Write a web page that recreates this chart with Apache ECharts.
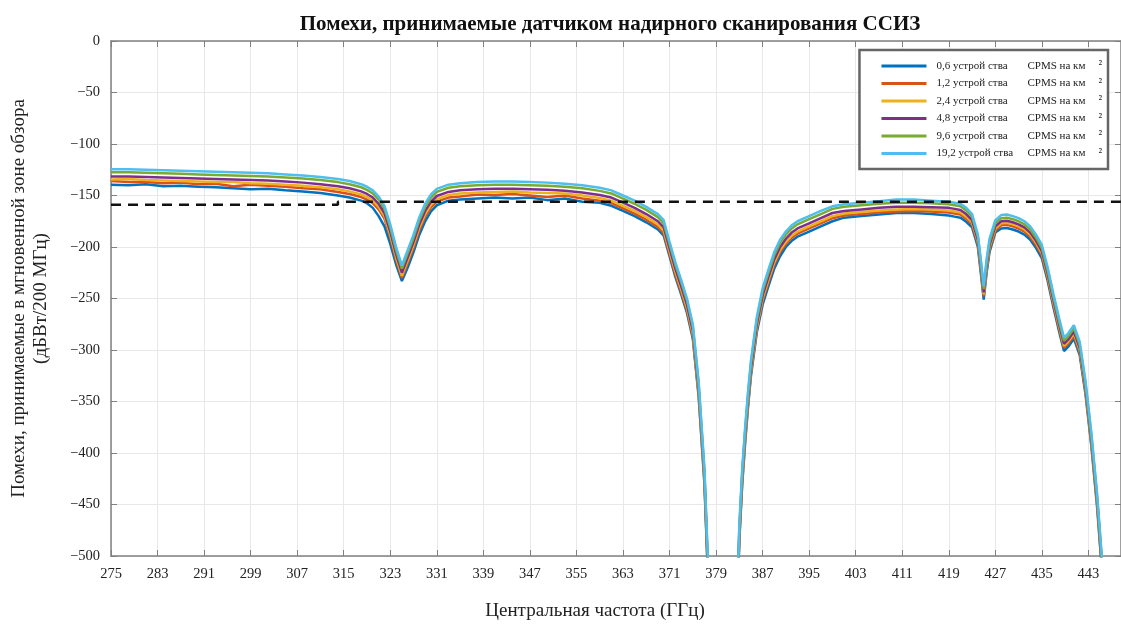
<!DOCTYPE html>
<html>
<head>
<meta charset="utf-8">
<script src="https://cdn.jsdelivr.net/npm/echarts@6/dist/echarts.min.js"></script>
<style>
  html, body { margin: 0; padding: 0; background: #fff; }
  #chart { width: 1121px; height: 626px; }
</style>
</head>
<body>
<div id="chart"></div>
<script>
// центральная частота, ГГц
const freq = [
  275, 278, 281, 284, 287, 290, 293, 296, 299, 302,
  305, 308, 311, 314, 316, 318, 319, 320, 321, 322,
  323, 324, 325, 326, 327, 328, 329, 330, 331, 333,
  335, 338, 341, 344, 347, 350, 353, 356, 359, 361,
  363, 365, 367, 369, 370, 371, 372, 373, 374, 375,
  376, 377, 377.5, 378, 380, 382.5, 383, 383.5, 384, 384.5,
  385, 386, 387, 388, 389, 390, 391, 392, 393, 395,
  397, 399, 401, 404, 407, 410, 413, 416, 419, 420,
  421, 422, 423, 424, 424.5, 425, 425.5, 426, 427, 428,
  429, 430, 431, 432, 433, 434, 435, 436, 437, 438,
  438.8, 439.5, 440.5, 441.5, 442.5, 443.5, 444.5, 445.3, 446, 447
];

const s06 = [
  -139.5, -140, -139, -141, -140.5, -141.5, -142, -143, -144, -143.5,
  -145, -146, -147.5, -150, -152, -155, -157.5, -162, -170, -180,
  -197, -217, -233, -220, -205, -188, -175, -165.5, -159.5, -155,
  -154, -153, -152, -153, -152, -154.5, -153, -156, -157, -160,
  -165, -170, -176, -183, -189, -209, -229, -246, -264, -289,
  -345, -430, -505, -555, -715, -575, -485, -430, -390, -355,
  -325, -283, -256, -238, -221, -209, -200, -194, -190, -185,
  -180, -175, -171.5, -170, -168.5, -167, -167, -168, -169.5, -170.5,
  -171.5, -175.5, -181, -200, -225, -251, -225, -205, -186, -182,
  -181.5, -183, -185, -188, -193, -201, -211, -233, -259, -283,
  -301, -297, -289, -305, -343, -393, -453, -513, -573, -633
];

const s12 = [
  -136, -137, -137, -138, -137.5, -139, -138.5, -141, -139.5, -140.5,
  -141.5, -143, -144, -146.5, -148.5, -151.5, -154, -157.5, -163.5, -172.5,
  -190.5, -212.5, -230, -215.5, -200.5, -183.5, -170.5, -161.5, -156, -152,
  -151, -149, -149.5, -148.5, -150, -151.5, -150, -153, -155, -157.5,
  -162.5, -167.5, -173.5, -180.5, -186.5, -206.5, -226.5, -243.5, -261.5, -286.5,
  -342, -427, -502, -552, -712, -572, -482, -427, -387, -352,
  -322, -280, -252, -234, -217, -205, -197, -191, -187, -182,
  -177, -172, -169.5, -168, -166.5, -165.5, -165, -165.5, -166.5, -167.5,
  -168.5, -172.5, -178, -197, -221, -248, -222, -202, -184, -179,
  -178.5, -180, -182, -185, -190, -198, -208, -230, -256, -280,
  -298, -294, -286, -302, -340, -390, -450, -510, -570, -630
];

const s24 = [
  -134.5, -134, -135, -135.5, -136, -136.5, -137, -137, -138, -138.5,
  -139.5, -140.5, -142, -144, -146, -149, -151.5, -155, -161, -170,
  -188, -210, -228, -213, -198, -181, -168, -159, -153.5, -149.5,
  -148, -147, -146.5, -146, -147, -147.5, -148, -150, -152.5, -155,
  -160, -165, -171, -178, -184, -204, -224, -241, -259, -284,
  -340, -425, -500, -550, -710, -570, -480, -425, -385, -350,
  -320, -278, -250, -232, -215, -203, -195, -189, -185, -180,
  -175, -170, -167.5, -166, -164.5, -163.5, -163, -163.5, -164.5, -165.5,
  -166.5, -170.5, -176, -195, -219, -246, -220, -200, -182, -177,
  -176.5, -178, -180, -183, -188, -196, -206, -228, -254, -278,
  -296, -292, -284, -300, -338, -388, -448, -508, -568, -628
];

const s48 = [
  -131.5, -131.5, -132, -132.5, -133, -133.5, -134, -134.5, -135, -135.5,
  -136.5, -137.5, -139, -141, -143, -146, -148.5, -152, -158, -167,
  -185, -207, -225, -210, -195, -178, -165, -156, -150.5, -146.5,
  -145, -144, -143.5, -143.5, -144, -144.5, -145.5, -147, -149.5, -152,
  -157, -162, -168, -175, -181, -201, -221, -238, -256, -281,
  -337, -422, -497, -547, -707, -567, -477, -422, -382, -347,
  -317, -275, -247, -229, -212, -200, -192, -186, -182, -177,
  -172, -167, -165, -163.5, -162, -161, -161, -161.5, -162, -163,
  -164, -168, -174, -193, -217, -244, -218, -198, -180, -175,
  -174.5, -176, -178, -181, -186, -194, -204, -226, -252, -276,
  -294, -290, -282, -298, -336, -386, -446, -506, -566, -626
];

const s96 = [
  -127.5, -127.5, -128, -128.5, -129, -129.5, -130, -130.5, -131, -131.5,
  -132.5, -133.5, -135, -137, -139, -142, -144.5, -148, -154, -163,
  -181, -203, -221, -206, -191, -174, -161, -152, -146.5, -142.5,
  -141, -140, -139.5, -139.5, -140, -140.5, -141.5, -143, -145.5, -148,
  -153, -158, -164, -171, -177, -197, -217, -234, -252, -277,
  -333, -418, -493, -543, -703, -563, -473, -418, -378, -343,
  -313, -271, -243, -225, -208, -196, -188, -182, -178, -173,
  -168, -163, -161, -159.5, -158, -157, -157, -157.5, -158.5, -159.5,
  -160.5, -164.5, -170.5, -190, -214, -241, -215, -195, -177, -172,
  -171.5, -173, -175, -178, -183, -191, -201, -223, -249, -273,
  -291, -287, -279, -295, -333, -383, -443, -503, -563, -623
];

const s192 = [
  -124.5, -124.5, -125, -125.5, -126, -126.5, -127, -127.5, -128, -128.5,
  -129.5, -130.5, -132, -134, -136, -139, -141.5, -145, -151, -160,
  -178, -200, -218, -203, -188, -171, -158, -149, -143.5, -139.5,
  -138, -137, -136.5, -136.5, -137, -137.5, -138.5, -140, -142.5, -145,
  -150, -155, -161, -168, -174, -195, -215, -232, -250, -275,
  -330, -415, -490, -540, -700, -560, -470, -415, -375, -340,
  -310, -268, -240, -222, -205, -193, -185, -179, -175, -170,
  -165, -160.5, -158.5, -157, -155.5, -154, -154, -155, -156, -157,
  -158, -162, -168, -188, -212, -238, -212, -192, -174, -169,
  -168.5, -170, -172, -175, -180, -188, -198, -220, -246, -270,
  -288, -284, -276, -292, -330, -380, -440, -500, -560, -620
];

// пороговый уровень (пунктир)
const thrFreq = [275, 314, 314, 448.6];
const thrVal = [-159, -159, -156, -156];

const names = ['0,6', '1,2', '2,4', '4,8', '9,6', '19,2'];
const values = [s06, s12, s24, s48, s96, s192];
const colors = ['#0072BD', '#D95319', '#EDB120', '#7E2F8E', '#77AC30', '#4DBEEE'];

const serif = '"Liberation Serif", "DejaVu Serif", serif';

const series = names.map(function (n, i) {
  return {
    name: n,
    type: 'line',
    showSymbol: false,
    symbol: 'none',
    clip: true,
    data: freq.map(function (f, k) { return [f, values[i][k]]; }),
    lineStyle: { width: 2.5, color: colors[i] },
    itemStyle: { color: colors[i] },
    z: 2 + i
  };
});

series.push({
  name: 'threshold',
  type: 'line',
  showSymbol: false,
  symbol: 'none',
  data: thrFreq.map(function (f, k) { return [f, thrVal[k]]; }),
  lineStyle: { width: 2.5, color: '#111', type: [10, 7] },
  z: 10
});

const axisGray = '#808080';

const option = {
  animation: false,
  backgroundColor: '#fff',
  title: {
    text: 'Помехи, принимаемые датчиком надирного сканирования ССИЗ',
    left: 605,
    top: 9,
    textAlign: 'center',
    textStyle: { fontFamily: serif, fontSize: 21, fontWeight: 'bold', color: '#111' }
  },
  grid: { left: 101, right: 0, top: 41, bottom: 60 },
  legend: {
    data: names,
    orient: 'vertical',
    right: 13,
    top: 50,
    icon: 'rect',
    itemWidth: 45,
    itemHeight: 3,
    itemGap: 5,
    padding: [9, 6, 10, 22],
    backgroundColor: '#fff',
    borderColor: '#666',
    borderWidth: 2.5,
    formatter: function (n) {
      return '{a|' + n + ' устрой ства}{b|CPMS на км}{s|²}';
    },
    textStyle: {
      fontFamily: serif,
      color: '#222',
      padding: [0, 0, 0, 5],
      rich: {
        a: { fontFamily: serif, fontSize: 11, width: 91, lineHeight: 14, color: '#222' },
        b: { fontFamily: serif, fontSize: 11, lineHeight: 14, color: '#222' },
        s: { fontFamily: serif, fontSize: 12, lineHeight: 14, padding: [0, 0, 0, 13], color: '#222', verticalAlign: 'top' }
      }
    },
    z: 20
  },
  xAxis: [
    {
      type: 'value',
      min: 275,
      max: 448.6,
      interval: 8,
      name: 'Центральная частота (ГГц)',
      nameLocation: 'middle',
      nameGap: 46,
      nameTextStyle: { fontFamily: serif, fontSize: 19, color: '#222', padding: [0, 42, 0, 0] },
      axisLine: { onZero: false, lineStyle: { color: axisGray, width: 1.5 } },
      axisTick: { inside: true, length: 6, lineStyle: { color: axisGray } },
      axisLabel: { fontFamily: serif, fontSize: 14.5, color: '#222', margin: 11, showMaxLabel: false },
      splitLine: { show: true, lineStyle: { color: '#e8e8e8', width: 1 } }
    },
    {
      type: 'value',
      position: 'top',
      min: 275,
      max: 448.6,
      interval: 8,
      axisLine: { onZero: false, lineStyle: { color: axisGray, width: 1.5 } },
      axisTick: { inside: true, length: 6, lineStyle: { color: axisGray } },
      axisLabel: { show: false },
      splitLine: { show: false }
    }
  ],
  yAxis: [
    {
      type: 'value',
      min: -500,
      max: 0,
      interval: 50,
      name: 'Помехи, принимаемые в мгновенной зоне обзора\n(дБВт/200 МГц)',
      nameLocation: 'middle',
      nameGap: 59,
      nameTextStyle: { fontFamily: serif, fontSize: 19, color: '#222', lineHeight: 22 },
      axisLine: { onZero: false, lineStyle: { color: axisGray, width: 1.5 } },
      axisTick: { inside: true, length: 6, lineStyle: { color: axisGray } },
      axisLabel: {
        fontFamily: serif, fontSize: 14.5, color: '#222', margin: 11,
        formatter: function (v) { return String(v).replace('-', '−'); }
      },
      splitLine: { show: true, lineStyle: { color: '#e8e8e8', width: 1 } }
    },
    {
      type: 'value',
      position: 'right',
      min: -500,
      max: 0,
      interval: 50,
      axisLine: { show: true, onZero: false, lineStyle: { color: axisGray, width: 1.5 } },
      axisTick: { show: true, inside: true, length: 6, lineStyle: { color: axisGray } },
      axisLabel: { show: false },
      splitLine: { show: false }
    }
  ],
  series: series
};

const myChart = echarts.init(document.getElementById('chart'));
myChart.setOption(option);
</script>
</body>
</html>
